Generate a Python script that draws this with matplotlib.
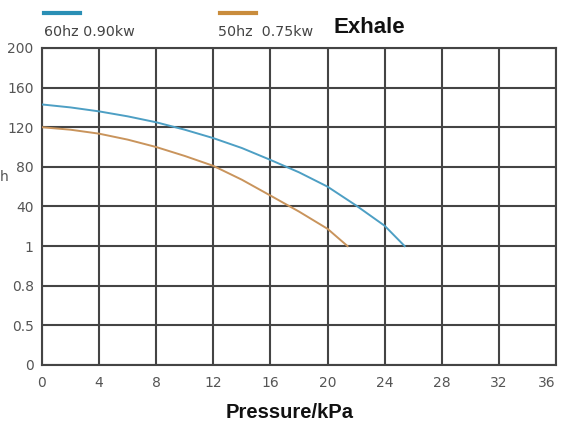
import numpy as np
import matplotlib.pyplot as plt

# y axis labels are evenly spaced, not to scale
y_ticks = [0, 0.5, 0.8, 1, 40, 80, 120, 160, 200]
y_labels = ["0", "0.5", "0.8", "1", "40", "80", "120", "160", "200"]
x_ticks = [0, 4, 8, 12, 16, 20, 24, 28, 32, 36]

# 60hz 0.90kw
p60 = [0, 2, 4, 6, 8, 10, 12, 14, 16, 18, 20, 22, 24, 25.4]
q60 = [143, 140, 136, 131, 125, 117.5, 109, 99, 87, 74.5, 60, 41, 21, 1]
# 50hz 0.75kw
p50 = [0, 2, 4, 6, 8, 10, 12, 14, 16, 18, 20, 21.4]
q50 = [120, 117.5, 113.5, 107.5, 100, 91, 81, 67, 51, 35, 18, 1]

c60 = "#4d9fc4"
c50 = "#c9945c"


def ypos(v):
    return np.interp(v, y_ticks, np.arange(len(y_ticks)))


fig = plt.figure(figsize=(5.63, 4.30), dpi=100)
ax = fig.add_axes([0.0746, 0.1512, 0.913, 0.7372])

ax.plot(p60, ypos(q60), color=c60, lw=1.4, zorder=3)
ax.plot(p50, ypos(q50), color=c50, lw=1.4, zorder=3)

ax.set_xlim(0, 36)
ax.set_ylim(0, len(y_ticks) - 1)
ax.set_xticks(x_ticks)
ax.set_yticks(np.arange(len(y_ticks)))
ax.set_yticklabels(y_labels)
ax.grid(True, color="#444444", lw=1.5)
for s in ax.spines.values():
    s.set_color("#444444")
    s.set_linewidth(1.5)
ax.tick_params(length=0, pad=6, colors="#555555", labelsize=10)
ax.tick_params(axis="x", pad=8)
# last x label sits inside the frame in the original
ax.get_xticklabels()[-1].set_horizontalalignment("right")

fig.text(290 / 563, 1 - 412 / 430, "Pressure/kPa", fontsize=14.5, fontweight="bold",
         family="Liberation Sans", ha="center", va="center", color="#111111")

# legend swatches on top
fig.add_artist(plt.Line2D([0.079, 0.142], [0.97, 0.97], color="#2a8fb5", lw=3))
fig.add_artist(plt.Line2D([0.391, 0.454], [0.97, 0.97], color="#c98c3c", lw=3))
fig.text(0.079, 0.925, "60hz 0.90kw", fontsize=10.3, color="#444444", va="center")
fig.text(0.387, 0.925, "50hz  0.75kw", fontsize=10.3, color="#444444", va="center")
fig.text(0.592, 0.935, "Exhale", fontsize=16, fontweight="bold",
         family="Liberation Sans", va="center", color="#111111")
fig.text(0.0, 0.588, "h", fontsize=10, color="#555555", va="center")

fig.savefig("out.png", dpi=100)
